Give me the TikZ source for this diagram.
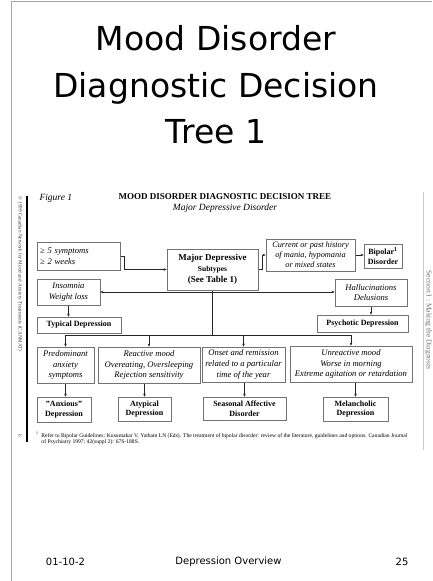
\documentclass[tikz,border=0pt]{standalone}
\usepackage{fontspec}
\setmainfont{Liberation Serif}
\newfontfamily\slidefont{DejaVu Sans}
\usepackage{tikz}
\usetikzlibrary{positioning}
\usetikzlibrary{arrows.meta}
\pgfdeclarelayer{background}
\pgfdeclarelayer{foreground}
\pgfsetlayers{background,main,foreground}

\begin{document}
\begin{tikzpicture}[x=1pt,y=-1pt,
	boxnode/.style={draw=black!55, line width=0.5pt, inner sep=1pt, align=center, fill=white},
	itnode/.style={boxnode, font=\itshape\fontsize{8.6}{10.6}\selectfont},
	bfnode/.style={boxnode, font=\bfseries\fontsize{8}{9.6}\selectfont},
	slidetext/.style={font=\slidefont\fontsize{33}{40}\selectfont, anchor=base},
	footnode/.style={font=\slidefont\fontsize{10}{12}\selectfont},
	sidenote/.style={rotate=-90, inner sep=0pt},
	wire/.style={line width=0.5pt, draw=black!85},
	link/.style={wire, -{Stealth[length=3.2pt,width=2.6pt]}},
	twoway/.style={wire, {Stealth[length=3.2pt,width=2.6pt]}-{Stealth[length=3.2pt,width=2.6pt]}},
	]
	\useasboundingbox (0,0) rectangle (432,581);
	%Slide frame
	\draw[gray!70, line width=0.8pt] (11,581) -- (11,1) -- (432,1);
	\draw[line width=1.2pt] (27,196) -- (27,442);
	\draw[gray!40, line width=0.6pt] (423,192) -- (423,450);
	
	%Title
	\node[slidetext] (t1) at (216,50)  {Mood Disorder};
	\node[slidetext] (t2) at (216,97)  {Diagnostic Decision};
	\node[slidetext] (t3) at (216,143) {Tree 1};
	
	%Figure heading
	\node[anchor=base west, font=\itshape\fontsize{9.5}{11}\selectfont] (fig)    at (36,200)  {Figure 1};
	\node[anchor=base, font=\bfseries\fontsize{9}{11}\selectfont]       (ftitle) at (225,199) {MOOD DISORDER DIAGNOSTIC DECISION TREE};
	\node[anchor=base, font=\itshape\fontsize{9.5}{11}\selectfont]      (fsub)   at (225,210) {Major Depressive Disorder};
	
	%Nodes
	\node[itnode, minimum width=83pt, minimum height=28pt, text width=77pt, align=left] (sym) at (78.5,256) {≥ 5 symptoms\\≥ 2 weeks};
	\node[bfnode, font=\bfseries\fontsize{9}{11}\selectfont, minimum width=91pt, minimum height=41pt] (mds) at (212.5,269.5) {Major Depressive\\{\fontsize{7.5}{9}\selectfont Subtypes}\\(See Table 1)};
	\node[itnode, font=\itshape\fontsize{8.3}{10}\selectfont, minimum width=89pt, minimum height=32pt] (hist) at (310.5,255) {Current or past history\\of mania, hypomania\\or mixed states};
	\node[bfnode, minimum width=38pt, minimum height=24pt] (bip) at (383,256) {Bipolar\textsuperscript{1}\\Disorder};
	\node[itnode, minimum width=63pt, minimum height=26pt] (ins) at (68.5,292) {Insomnia\\Weight loss};
	\node[itnode, minimum width=72pt, minimum height=27pt] (hal) at (371,292.5) {Hallucinations\\Delusions};
	\node[bfnode, minimum width=84pt, minimum height=16pt] (typ) at (79,325) {Typical Depression};
	\node[bfnode, minimum width=91pt, minimum height=17pt] (psy) at (362.5,323.5) {Psychotic Depression};
	\node[itnode, minimum width=57pt, minimum height=36pt] (anx) at (65.5,365) {Predominant\\anxiety\\symptoms};
	\node[itnode, minimum width=102pt, minimum height=36pt] (rea) at (149,365) {Reactive mood\\Overeating, Oversleeping\\Rejection sensitivity};
	\node[itnode, minimum width=83pt, minimum height=35pt] (ons) at (243.5,364.5) {Onset and remission\\related to a particular\\time of the year};
	\node[itnode, minimum width=122pt, minimum height=36pt] (unr) at (351,364) {Unreactive mood\\Worse in morning\\Extreme agitation or retardation};
	\node[bfnode, minimum width=54pt, minimum height=25pt] (anxd) at (64,409.5) {"Anxious"\\Depression};
	\node[bfnode, minimum width=53pt, minimum height=24pt] (aty) at (144.5,409) {Atypical\\Depression};
	\node[bfnode, minimum width=83pt, minimum height=23pt] (sad) at (244.5,408.5) {Seasonal Affective\\Disorder};
	\node[bfnode, minimum width=65pt, minimum height=24pt] (mel) at (355.5,409) {Melancholic\\Depression};
	\coordinate (bar) at (212.5,335);
	
	%Notes
	\node[anchor=north west, align=left, inner sep=0pt, font=\fontsize{5.6}{6.5}\selectfont] (fnote) at (36,432) {\textsuperscript{1}\ \ Refer to Bipolar Guidelines: Kusumakar V, Yatham LN (Eds). The treatment of bipolar disorder: review of the literature, guidelines and options. Canadian Journal\\\phantom{\textsuperscript{1}\ \ }of Psychiatry 1997; 42(suppl 2): 67S-188S.};
	\node[sidenote, anchor=west, font=\fontsize{5.2}{6}\selectfont, text=black!75] (copy) at (20,196) {© 1999 Canadian Network for Mood and Anxiety Treatments (CANMAT)};
	\node[sidenote, font=\fontsize{5.2}{6}\selectfont, text=black!75] (pnum) at (20,436) {6};
	\node[sidenote, font=\fontsize{7.5}{9}\selectfont, text=black!55] (sect) at (428.5,320) {Section I : Making the Diagnosis};
	
	%Footer
	\node[footnode] (fdate)  at (65.5,562)  {01-10-2};
	\node[footnode] (ftopic) at (228.5,562) {Depression Overview};
	\node[footnode] (fpage)  at (402,562)   {25};
	
	\begin{pgfonlayer}{background}
	%Lines
	\draw[link] (sym.east) -- ++(4,0) |- (mds.west);
	\draw[link] (mds.east) -- ++(4,0) |- (hist.west);
	\draw[link] (hist.east) -- (hist.east -| bip.west);
	\draw[twoway] (ins.east) -- (ins.east -| hal.west);
	\draw[wire] (mds.south) -- (bar);
	\draw[wire] (anx.north |- bar) -- (unr.north |- bar);
	\foreach \b in {anx,rea,ons,unr}
		\draw[link] (\b.north |- bar) -- (\b.north);
	\draw[link] (ins.south) -- (ins.south |- typ.north);
	\draw[link] (hal.south) -- (hal.south |- psy.north);
	\draw[link] (anx.south) -- (anx.south |- anxd.north);
	\draw[link] (aty.north |- rea.south) -- (aty.north);
	\draw[link] (sad.north |- ons.south) -- (sad.north);
	\draw[link] (mel.north |- unr.south) -- (mel.north);
	\end{pgfonlayer}
\end{tikzpicture}
\end{document}
